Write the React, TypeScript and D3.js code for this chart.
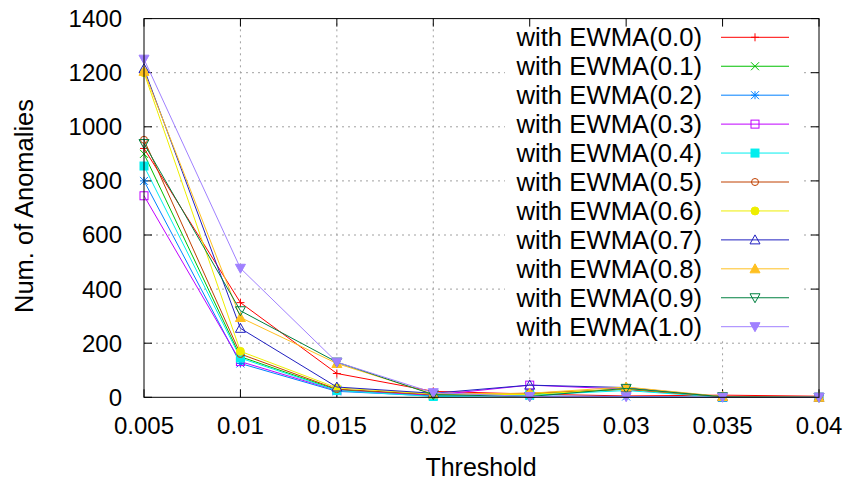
import React from "react";
import * as d3 from "d3";

const thresholds = [0.005, 0.01, 0.015, 0.02, 0.025, 0.03, 0.035, 0.04];
const xTickLabels = ["0.005", "0.01", "0.015", "0.02", "0.025", "0.03", "0.035", "0.04"];
const yTicks = [0, 200, 400, 600, 800, 1000, 1200, 1400];

const seriesNames = [
  "with EWMA(0.0)", "with EWMA(0.1)", "with EWMA(0.2)", "with EWMA(0.3)",
  "with EWMA(0.4)", "with EWMA(0.5)", "with EWMA(0.6)", "with EWMA(0.7)",
  "with EWMA(0.8)", "with EWMA(0.9)", "with EWMA(1.0)",
];

const ewma00 = [920, 350, 88, 22, 12, 5, 8, 4];
const ewma01 = [900, 150, 28, 8, 12, 30, 2, 0];
const ewma02 = [800, 125, 22, 5, 5, 3, 0, 0];
const ewma03 = [745, 132, 25, 8, 45, 30, 1, 0];
const ewma04 = [855, 145, 25, 3, 8, 25, 0, 0];
const ewma05 = [952, 160, 30, 10, 15, 30, 2, 0];
const ewma06 = [1200, 170, 35, 12, 10, 32, 2, 0];
const ewma07 = [1215, 255, 38, 15, 45, 36, 2, 0];
const ewma08 = [1205, 295, 125, 12, 15, 38, 3, 0];
const ewma09 = [938, 320, 130, 10, 3, 33, 2, 0];
const ewma10 = [1250, 477, 130, 17, 3, 2, 0, 0];

const allSeries = [ewma00, ewma01, ewma02, ewma03, ewma04, ewma05, ewma06, ewma07, ewma08, ewma09, ewma10];
const colors = ["#ff0000", "#00c000", "#0080ff", "#c000ff", "#00eeee", "#c04000", "#eeee00", "#2020c0", "#ffc020", "#008040", "#a080ff"];
const markerTypes = ["plus", "cross", "star", "squareOpen", "squareFill", "circleOpen", "circleFill", "triUpOpen", "triUpFill", "triDownOpen", "triDownFill"];

const W = 847, H = 480;
const left = 144, right = 819, top = 18.6, bottom = 397.3;
const FONT = "'Liberation Sans', Arial, sans-serif";

function Marker({ type, x, y, color }: { type: string; x: number; y: number; color: string }) {
  const s = 4;
  switch (type) {
    case "plus":
      return <path d={`M${x - s},${y}H${x + s}M${x},${y - s}V${y + s}`} stroke={color} strokeWidth={1} fill="none" />;
    case "cross":
      return <path d={`M${x - s},${y - s}L${x + s},${y + s}M${x - s},${y + s}L${x + s},${y - s}`} stroke={color} strokeWidth={1} fill="none" />;
    case "star":
      return <path d={`M${x - s},${y}H${x + s}M${x},${y - s}V${y + s}M${x - s},${y - s}L${x + s},${y + s}M${x - s},${y + s}L${x + s},${y - s}`} stroke={color} strokeWidth={1} fill="none" />;
    case "squareOpen":
      return <rect x={x - s} y={y - s} width={2 * s} height={2 * s} stroke={color} strokeWidth={1} fill="none" />;
    case "squareFill":
      return <rect x={x - s} y={y - s} width={2 * s} height={2 * s} stroke={color} strokeWidth={1} fill={color} />;
    case "circleOpen":
      return <circle cx={x} cy={y} r={s - 0.5} stroke={color} strokeWidth={1} fill="none" />;
    case "circleFill":
      return <circle cx={x} cy={y} r={s} stroke={color} strokeWidth={1} fill={color} />;
    case "triUpOpen":
      return <path d={`M${x},${y - s - 1}L${x + s + 1},${y + s}L${x - s - 1},${y + s}Z`} stroke={color} strokeWidth={1} fill="none" />;
    case "triUpFill":
      return <path d={`M${x},${y - s - 1}L${x + s + 1},${y + s}L${x - s - 1},${y + s}Z`} stroke={color} strokeWidth={1} fill={color} />;
    case "triDownOpen":
      return <path d={`M${x},${y + s + 1}L${x + s + 1},${y - s}L${x - s - 1},${y - s}Z`} stroke={color} strokeWidth={1} fill="none" />;
    default:
      return <path d={`M${x},${y + s + 1}L${x + s + 1},${y - s}L${x - s - 1},${y - s}Z`} stroke={color} strokeWidth={1} fill={color} />;
  }
}

export default function App() {
  const x = d3.scaleLinear().domain([0.005, 0.04]).range([left, right]);
  const y = d3.scaleLinear().domain([0, 1400]).range([bottom, top]);
  const line = d3.line<number>().x((_, i) => x(thresholds[i])).y((d) => y(d));

  const legX0 = 721, legX1 = 789, legTextX = 702, legY0 = 37.3, legDy = 28.94;

  return (
    <svg width={W} height={H} style={{ position: "absolute", left: 0, top: 0, background: "#fff" }} fontFamily={FONT}>
      <rect x={0} y={0} width={W} height={H} fill="#fff" />
      {/* grid */}
      <g stroke="#a0a0a0" strokeWidth={1} strokeDasharray="2,4">
        {yTicks.slice(1, -1).map((t) => (
          <line key={"gy" + t} x1={left} x2={right} y1={y(t)} y2={y(t)} />
        ))}
        {thresholds.slice(1, -1).map((t) => (
          <line key={"gx" + t} x1={x(t)} x2={x(t)} y1={bottom} y2={top} />
        ))}
      </g>
      {/* legend background */}
      <rect x={505} y={22} width={295} height={319} fill="#fff" />
      {/* ticks */}
      <g stroke="#000" strokeWidth={1}>
        {yTicks.map((t) => (
          <g key={"ty" + t}>
            <line x1={left} x2={left + 8} y1={y(t)} y2={y(t)} />
            <line x1={right} x2={right - 8} y1={y(t)} y2={y(t)} />
          </g>
        ))}
        {thresholds.map((t) => (
          <g key={"tx" + t}>
            <line x1={x(t)} x2={x(t)} y1={bottom} y2={bottom - 8} />
            <line x1={x(t)} x2={x(t)} y1={top} y2={top + 8} />
          </g>
        ))}
      </g>
      {/* series */}
      {allSeries.map((s, si) => (
        <g key={"s" + si}>
          <path d={line(s) || ""} fill="none" stroke={colors[si]} strokeWidth={1} />
          {s.map((v, i) => (
            <Marker key={i} type={markerTypes[si]} x={x(thresholds[i])} y={y(v)} color={colors[si]} />
          ))}
        </g>
      ))}
      {/* border */}
      <rect x={left} y={top} width={right - left} height={bottom - top} fill="none" stroke="#000" strokeWidth={1} />
      {/* tick labels */}
      <g fontSize={24} fill="#000">
        {yTicks.map((t) => (
          <text key={"ly" + t} x={122} y={y(t)} dy="0.35em" textAnchor="end">{t}</text>
        ))}
        {thresholds.map((t, i) => (
          <text key={"lx" + t} x={x(t)} y={434} textAnchor="middle">{xTickLabels[i]}</text>
        ))}
      </g>
      <text x={481} y={476} textAnchor="middle" fontSize={25}>Threshold</text>
      <text transform={`translate(33,206) rotate(-90)`} textAnchor="middle" fontSize={25.5}>Num. of Anomalies</text>
      {/* legend */}
      {seriesNames.map((n, i) => {
        const ly = legY0 + i * legDy;
        return (
          <g key={"leg" + i}>
            <text x={legTextX} y={ly} dy="0.35em" textAnchor="end" fontSize={25.7}>{n}</text>
            <line x1={legX0} x2={legX1} y1={ly} y2={ly} stroke={colors[i]} strokeWidth={1} />
            <Marker type={markerTypes[i]} x={(legX0 + legX1) / 2} y={ly} color={colors[i]} />
          </g>
        );
      })}
    </svg>
  );
}
